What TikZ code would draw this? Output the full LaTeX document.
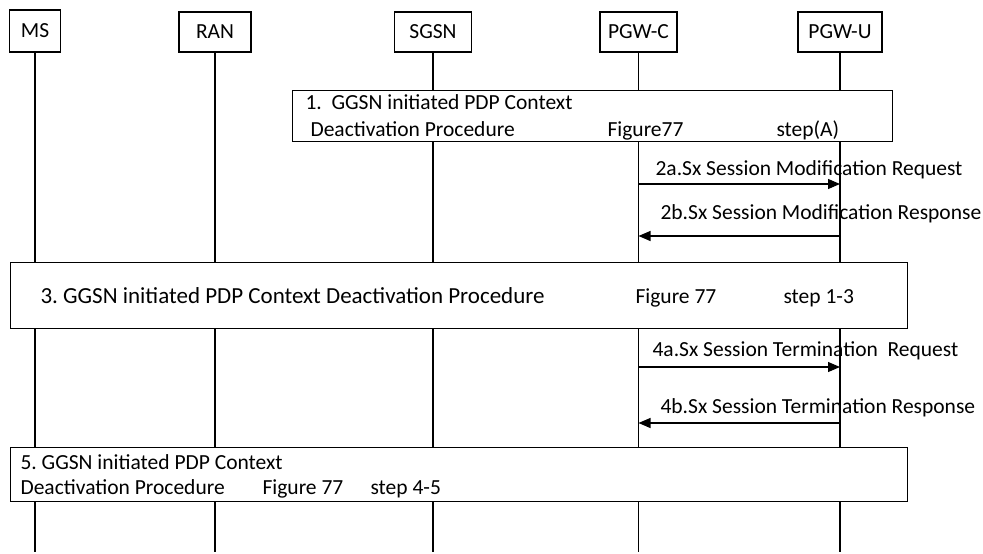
\documentclass[tikz,border=0pt]{standalone}
\usepackage{fontspec}
\setmainfont{Carlito}
\usetikzlibrary{arrows.meta}
\frenchspacing

\begin{document}
\begin{tikzpicture}[x=1pt, y=-1pt, line width=1.1pt,
    font=\fontsize{21.5}{26}\selectfont,
    entity/.style={draw, rectangle, minimum height=40pt, inner sep=0pt},
    procbox/.style={draw, rectangle, fill=white, inner sep=0pt, anchor=north west},
    txt/.style={anchor=base west, inner sep=0pt},
    msg/.style={-{Triangle[length=12pt, width=10pt]}}]
\useasboundingbox (0,0) rectangle (983,554);

\node[entity, minimum width=51pt, minimum height=42pt] (ms) at (35,31) {MS};
\node[entity, minimum width=72pt] (ran) at (215,32) {RAN};
\node[entity, minimum width=77pt] (sgsn) at (433,32) {SGSN};
\node[entity, minimum width=77pt] (pgwc) at (638.5,32) {PGW-C};
\node[entity, minimum width=84pt] (pgwu) at (840,32) {PGW-U};

\coordinate (bot) at (0,552);
\foreach \n in {ms,ran,sgsn,pgwc,pgwu}
    \draw (\n.south) -- (\n |- bot);

\node[procbox, minimum width=600pt, minimum height=51pt] (p1) at (292,90) {};
\node[txt] (p1a) at (305,109) {1.\ \ GGSN initiated PDP Context};
\node[txt] (p1b) at (310,136) {Deactivation Procedure};
\node[txt] (p1c) at (607,136) {Figure77};
\node[txt] (p1d) at (776,136) {step(A)};

\coordinate (m2a) at (0,184);
\coordinate (m2b) at (0,236);
\draw[msg] (pgwc |- m2a) -- (pgwu |- m2a);
\draw[msg] (pgwu |- m2b) -- (pgwc |- m2b);
\node[txt] (l2a) at (655,175) {2a.Sx Session Modification Request};
\node[txt] (l2b) at (660,219) {2b.Sx Session Modification Response};

\node[procbox, minimum width=897pt, minimum height=66pt] (p3) at (10,262) {};
\node[txt, font=\fontsize{23}{28}\selectfont] (p3a) at (40,303) {3. GGSN initiated PDP Context Deactivation Procedure};
\node[txt] (p3b) at (635,303) {Figure 77};
\node[txt] (p3c) at (783,303) {step 1-3};

\coordinate (m4a) at (0,367);
\coordinate (m4b) at (0,423);
\draw[msg] (pgwc |- m4a) -- (pgwu |- m4a);
\draw[msg] (pgwu |- m4b) -- (pgwc |- m4b);
\node[txt] (l4a) at (652,356) {4a.Sx Session Termination\ \ Request};
\node[txt] (l4b) at (660,413) {4b.Sx Session Termination Response};

\node[procbox, minimum width=897pt, minimum height=54pt] (p5) at (10,447) {};
\node[txt] (p5a) at (20,469) {5. GGSN initiated PDP Context};
\node[txt] (p5b) at (20,494) {Deactivation Procedure};
\node[txt] (p5c) at (262,494) {Figure 77};
\node[txt] (p5d) at (370,494) {step 4-5};
\end{tikzpicture}
\end{document}
